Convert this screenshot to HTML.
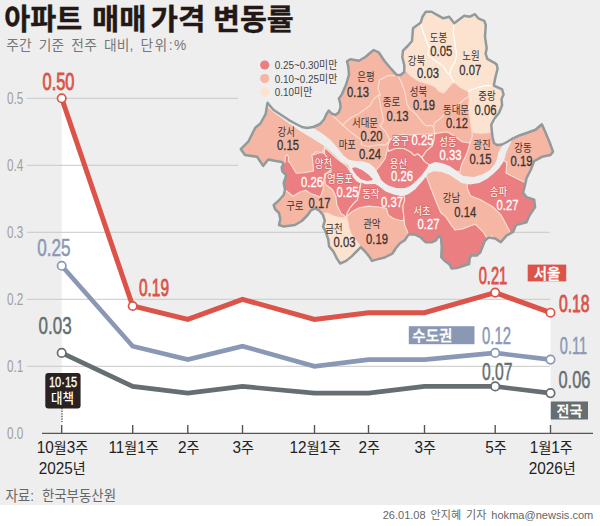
<!DOCTYPE html>
<html lang="ko"><head><meta charset="utf-8"><title>아파트 매매 가격 변동률</title>
<style>html,body{margin:0;padding:0;background:#fff;}svg{display:block;}text{font-family:'Liberation Sans','Noto Sans CJK KR','NanumGothic',sans-serif;}</style></head><body>
<svg width="600" height="526" viewBox="0 0 600 526">
<rect x="0" y="0" width="600" height="505.5" fill="#eeeeee"/>
<rect x="0" y="505" width="600" height="21" fill="#ffffff"/>
<polygon points="61.7,98.3 132.7,306.0 187.8,319.4 242.5,299.3 314.5,319.4 368.5,312.7 424.5,312.7 495.2,292.6 550.5,312.7 550.5,433.3 61.7,433.3" fill="#ffffff"/>
<g stroke="#c9c9c9" stroke-width="1" fill="none">
<line x1="27" y1="98.3" x2="238.2" y2="98.3"/>
<line x1="27" y1="165.3" x2="238.2" y2="165.3"/>
<line x1="27" y1="232.3" x2="549.8" y2="232.3"/>
<line x1="27" y1="299.3" x2="550" y2="299.3"/>
<line x1="27" y1="366.3" x2="550" y2="366.3"/>
</g>
<g stroke="#595555" stroke-width="1.4" fill="none">
<line x1="42" y1="433.4" x2="593" y2="433.4"/>
<line x1="61.7" y1="425" x2="61.7" y2="433.3"/>
<line x1="132.7" y1="425" x2="132.7" y2="433.3"/>
<line x1="187.8" y1="425" x2="187.8" y2="433.3"/>
<line x1="242.5" y1="425" x2="242.5" y2="433.3"/>
<line x1="314.5" y1="425" x2="314.5" y2="433.3"/>
<line x1="368.5" y1="425" x2="368.5" y2="433.3"/>
<line x1="424.5" y1="425" x2="424.5" y2="433.3"/>
<line x1="495.2" y1="425" x2="495.2" y2="433.3"/>
<line x1="550.5" y1="425" x2="550.5" y2="433.3"/>
</g>
<g id="seoulmap">
<defs><clipPath id="mapclip"><polygon points="267.5,102.8 273.3,109.7 281.3,115 289.3,120.3 297,124.5 302,127 307,128 313.3,127 320,124 324,119.5 326.5,114 328.8,110.5 331.5,113.5 335.5,115 338.8,112.3 340.6,107 340,102.5 338.9,98.5 341.7,94.7 346.3,84 349,74.7 348.3,66.7 347,61.3 350.3,59.3 359,60.7 365.7,56.7 370.3,52.7 373.7,50 379,52.7 384.3,60.7 391,68.7 396.3,74.7 400.3,75.3 404.3,72 404.3,65.3 402.3,57.3 403,50.7 407.7,46 412,41 413,28.3 420.8,22.5 422.5,16.7 425.8,11.7 431.7,11.7 435.8,14.2 443.3,18.3 449.2,16.7 451.7,20 454.2,23.3 457.5,20.8 464.2,15.8 470,16.7 475,14.2 478.3,18.3 484.2,20.8 485.8,25 485,36.7 486.7,48.3 485.6,53.7 487.3,58.8 494.5,62.8 496.8,64.8 497.6,68.7 495.3,77.8 493.8,85.6 498,87.5 502.1,89.4 503.6,94.5 501.5,99.1 502.1,105.2 499.1,112.8 494.5,118.5 491.3,124.5 491.7,130 492.5,137 494,143 497,145 502,144.5 507,142 513,138.3 520,135.2 528,132.5 535.5,129.8 541.9,124.3 545.3,132 549.6,142.3 553,151.7 550.5,155.1 541.9,156.8 534.2,161.1 530.8,169.7 526.5,178.2 524.8,185.9 523.1,192.8 526.5,197.1 534.2,199.6 535.1,207.1 529.4,215.6 526.5,222.3 516,225.1 513.2,231.8 506.5,235.6 500.8,242.2 495.1,238.4 488.5,237.5 484.8,240.8 482.5,246.7 480.2,252.5 476.7,255.5 471.4,255.2 469.7,258.3 469.1,264 463.8,265.7 456.8,268 451.6,268.5 449.3,264.2 445.2,261.3 441.3,257.2 441.7,246.7 441.1,238.5 438.9,235.6 436,240.3 432.2,242.2 425.6,242.2 420.8,237.5 415.1,234.6 408.5,234.6 404.7,240.3 400,243.2 396,248 392.3,253.7 384.7,257.5 377.1,259.4 371.9,260.9 369.3,256.6 365.1,251.5 360.8,247.2 356.5,251.5 351.4,256.6 346.2,260.9 340.2,263.5 336.8,258.4 333.4,251.5 329.1,246.4 328.3,239.5 325.7,231.8 323.1,226.7 324.8,220.7 323,215 319,210.3 315,208.3 311,210.3 307.7,215 301.7,221 295,225 283.7,226.5 279,225 280.3,219 279,213 275,209 273.7,205 278.3,201 283.7,195 285,189.7 283.7,183 285.7,177 286.3,175.3 282.3,171.3 281.7,167.3 283.7,163.5 281.7,162 274.5,160.8 268.3,159.5 263.1,165.9 257.1,156.8 245,155 240.8,149.2 248.5,141.4 251,136.3 255.3,127.7 260.4,123.5 265.6,114.1"/></clipPath></defs>
<g clip-path="url(#mapclip)">
<polygon points="267.5,102.8 273.3,109.7 281.3,115 289.3,120.3 297,124.5 302,127 307,128 313.3,127 320,124 324,119.5 326.5,114 328.8,110.5 331.5,113.5 335.5,115 338.8,112.3 340.6,107 340,102.5 338.9,98.5 341.7,94.7 346.3,84 349,74.7 348.3,66.7 347,61.3 350.3,59.3 359,60.7 365.7,56.7 370.3,52.7 373.7,50 379,52.7 384.3,60.7 391,68.7 396.3,74.7 400.3,75.3 404.3,72 404.3,65.3 402.3,57.3 403,50.7 407.7,46 412,41 413,28.3 420.8,22.5 422.5,16.7 425.8,11.7 431.7,11.7 435.8,14.2 443.3,18.3 449.2,16.7 451.7,20 454.2,23.3 457.5,20.8 464.2,15.8 470,16.7 475,14.2 478.3,18.3 484.2,20.8 485.8,25 485,36.7 486.7,48.3 485.6,53.7 487.3,58.8 494.5,62.8 496.8,64.8 497.6,68.7 495.3,77.8 493.8,85.6 498,87.5 502.1,89.4 503.6,94.5 501.5,99.1 502.1,105.2 499.1,112.8 494.5,118.5 491.3,124.5 491.7,130 492.5,137 494,143 497,145 502,144.5 507,142 513,138.3 520,135.2 528,132.5 535.5,129.8 541.9,124.3 545.3,132 549.6,142.3 553,151.7 550.5,155.1 541.9,156.8 534.2,161.1 530.8,169.7 526.5,178.2 524.8,185.9 523.1,192.8 526.5,197.1 534.2,199.6 535.1,207.1 529.4,215.6 526.5,222.3 516,225.1 513.2,231.8 506.5,235.6 500.8,242.2 495.1,238.4 488.5,237.5 484.8,240.8 482.5,246.7 480.2,252.5 476.7,255.5 471.4,255.2 469.7,258.3 469.1,264 463.8,265.7 456.8,268 451.6,268.5 449.3,264.2 445.2,261.3 441.3,257.2 441.7,246.7 441.1,238.5 438.9,235.6 436,240.3 432.2,242.2 425.6,242.2 420.8,237.5 415.1,234.6 408.5,234.6 404.7,240.3 400,243.2 396,248 392.3,253.7 384.7,257.5 377.1,259.4 371.9,260.9 369.3,256.6 365.1,251.5 360.8,247.2 356.5,251.5 351.4,256.6 346.2,260.9 340.2,263.5 336.8,258.4 333.4,251.5 329.1,246.4 328.3,239.5 325.7,231.8 323.1,226.7 324.8,220.7 323,215 319,210.3 315,208.3 311,210.3 307.7,215 301.7,221 295,225 283.7,226.5 279,225 280.3,219 279,213 275,209 273.7,205 278.3,201 283.7,195 285,189.7 283.7,183 285.7,177 286.3,175.3 282.3,171.3 281.7,167.3 283.7,163.5 281.7,162 274.5,160.8 268.3,159.5 263.1,165.9 257.1,156.8 245,155 240.8,149.2 248.5,141.4 251,136.3 255.3,127.7 260.4,123.5 265.6,114.1" fill="#f5b6a4"/>
<polygon points="403.6,71.3 396,60 400,10 440,5 495,8 508,80 510,105 500,120 496,131 489,132.7 481,133.3 474,132.7 471.9,130.5 470.2,118.8 468.5,108.5 469.3,100 468.5,91.4 459.9,87 453.9,82 449.7,86.2 443.7,93 439.4,91.4 434.2,86.2 427.4,83.7 418.8,81.1 412,76.8 406.8,71.7" fill="#fbe3cf" stroke="#fbddd2" stroke-width="1.15" stroke-linejoin="round"/>
<polygon points="322.3,213.8 327.4,213 334.2,216.4 341.9,218.1 346.5,217.5 347.9,221.9 348.8,228 351.4,234.4 356.5,241.2 360.8,247.2 358,262 340,270 322,250 318,225 318,214" fill="#fbe3cf" stroke="#fbddd2" stroke-width="1.15" stroke-linejoin="round"/>
<polygon points="287,154.5 288.5,157 288.3,161.3 289.7,162.5 292.3,166.7 296.3,173.3 304.3,172.7 313.5,171 312.8,162 312,155.1 316.2,151.7 324.8,153.4 329,158.6 331.6,167.1 329,171.4 324.8,174 323.5,182.5 323,189.7 320.3,197 315,195 311,193.7 305.7,190.3 300.3,191.7 293,196.3 285,189.7 276,188 276,163 283.7,164 285,162.7 285.4,156.7" fill="#ea7e81" stroke="#fbddd2" stroke-width="1.15" stroke-linejoin="round"/>
<polygon points="324.5,146.5 326.7,149.3 334.7,156.7 341.3,162 346.7,166 350,171.3 353.3,176.7 357.3,181.3 361.3,183.3 359.9,186.2 359,193.1 357.4,199.9 353.1,204.2 349.7,208.5 347.1,213.6 346.2,217 341.1,213.6 336.8,205.1 335.9,196.5 332.5,189.7 325.7,184.5 324.8,180.2 325.7,174.2 330.8,172.5 331.7,165.7 327.4,158 324.5,153.5" fill="#ea7e81" stroke="#fbddd2" stroke-width="1.15" stroke-linejoin="round"/>
<polygon points="360.5,186 361.3,181 368,180 373.3,179 377.3,180 384,185 392,189 400,192 403.7,191.8 404.7,200.4 402.8,206.1 403.7,215.6 403.7,220.4 400,220.5 393.3,218.5 388.3,215 386.5,208.4 378.8,207 368.5,206.1 359.1,207.8 351.4,212.1 346.2,217 347.1,213.6 349.7,208.5 353.1,204.2 357.4,199.9 359,193.1" fill="#ea7e81" stroke="#fbddd2" stroke-width="1.15" stroke-linejoin="round"/>
<polygon points="403.7,191 405.7,190 414.2,187 421.1,181 426.2,175 427.5,179.5 430.3,187.1 434.1,196.6 437.9,206.1 440.8,212.8 445.6,216.6 451.3,225.1 455,229.9 462.7,228.9 470,226 475.2,224.2 483.7,232.7 486.6,237.5 492,236 488,250 482,262 470,272 455,274 438,270 430,248 420,242 408.5,236 407.5,231.8 404.7,225.1 403.7,215.6 402.8,206.1 404.7,200.4" fill="#ea7e81" stroke="#fbddd2" stroke-width="1.15" stroke-linejoin="round"/>
<polygon points="466.6,180 475.7,180 483.7,177 492.3,172 499.1,165 503.4,160 506.8,162.8 506,173.1 512.8,176.5 521.4,180.8 524.8,182.5 530,184 535,195 540,207 532,222 518,230 513.2,233 510.3,233.7 509.4,230.8 505.6,223.2 500.8,214.7 493.2,207.1 481.8,200.4 470.4,195.7 467.6,189" fill="#ea7e81" stroke="#fbddd2" stroke-width="1.15" stroke-linejoin="round"/>
<polygon points="388.6,151.1 395.4,148.5 404,148.5 410.8,152 414.2,155.4 417.7,153.7 422,158 424.5,161.4 428.8,164.4 428,171 421,182 412.5,188 404,192 395.4,192 386.8,187 380,179 375.5,171 380.2,165.3 385.3,158.5 387.1,150" fill="#ea7e81" stroke="#fbddd2" stroke-width="1.15" stroke-linejoin="round"/>
<polygon points="389.4,140.8 395.4,135.9 402.5,134.3 410,135 417.7,134.3 428,134 434.8,133.6 434,140 432.2,146 426.2,151.1 422,157.5 417.7,153.7 414.2,155.4 410.8,152 404,148.5 395.4,148.5 388.6,151.1 387.7,146.8" fill="#ea7e81" stroke="#fbddd2" stroke-width="1.15" stroke-linejoin="round"/>
<polygon points="434.8,133.6 445,132 449,132.8 455.5,137 462.5,142 469.9,143 468.2,149.4 465.6,156.2 462.2,163.1 460.5,168.2 460,172 451.9,170 443.4,167 434.8,166 428.8,164.4 424.5,161.4 422,157.5 426.2,151.1 432.2,146 434,140" fill="#ea7e81" stroke="#fbddd2" stroke-width="1.15" stroke-linejoin="round"/>
<g fill="none" stroke="#fbddd2" stroke-width="1.15" stroke-linejoin="round" stroke-linecap="round">
<polyline points="398.4,75.6 388.2,75.6 379.6,79.9 377.9,88.4 380.5,95.3 378.5,95.1 374.7,98.3 372,101.5 370.5,105 365.3,109 358.7,113.7 351.3,117.3 346,121.7 342.7,125"/>
<polyline points="328.8,111 334.7,117.7 342.7,125 349.4,131.1 356.2,136.2 361.4,139.7 361.4,144.8 368.2,146.5 378.5,144.8 385.3,144.8 388.8,142.2"/>
<polyline points="378.5,95.1 380.2,103.7 381.9,112.3 383.6,120.8 380.2,126 385.3,131.1 389.6,139.7 389.4,142"/>
<polyline points="398.4,76.5 401.9,83.3 405.3,93.6 406.8,103.4 409.4,108.5 417.1,115.3 422.3,122.2 425.7,125.6 431.4,125.4 433.5,127 434.8,133.6"/>
<polyline points="468.5,96.5 463.4,100 458.2,105 451.4,108.5 444.5,113.6 440.2,118.8 434.8,122.5 433.3,127"/>
<polyline points="469.9,143 472.3,136.5 472,130.5"/>
<polyline points="313.6,154.8 322,152 325,149"/>
<polyline points="324.8,215.9 328.2,213.4"/>
</g>
<g fill="none" stroke="#ffffff" stroke-width="1.2" stroke-linejoin="round" stroke-linecap="round">
<polyline points="420.8,23.3 422.5,30 426.7,41.7 429.2,47.5 427.8,55 436,61.4 442.8,65.7 447.1,72.5 449.7,74.2 453.9,82"/>
<polyline points="454.2,23.3 453.3,33.3 455,43.3 456.7,55 454.8,62.3 451.4,67.5 449.7,74.2"/>
<polyline points="468.5,91.4 472,89.5 477.8,87.7 485.4,85.6 493.8,85.6"/>
</g>
<polygon points="267.5,102.8 273.3,109.7 281.3,115 289.3,120.3 297,124.5 302,127 307,128 313,127.5 317,130.3 322.7,133.7 330.7,140.3 337.7,148 343,155 348.3,159.5 355,161 361.7,161 369.7,163.5 374.6,167.8 378.5,174.3 381.5,180.8 388.3,185.6 396.3,188 404.3,188.2 411,185.5 416.3,180.8 421.7,175.2 426.5,168.8 429.7,164.3 435,162 441.7,163 449.7,166 455.3,170 463.3,176 474,177 483.3,174 490,170 495.3,163.3 497.3,157.5 498.3,152.5 500.5,148.5 503,145 505,141 512,140.5 510,144.5 507.5,149.5 505.7,154 505,157.5 503.3,162 499.3,168 494,173.3 487.3,178.7 479.3,183 470,184.5 461.5,183 455,178.5 449.7,175 441.7,172 433.7,171.3 428.3,173.5 425.7,177.2 420.3,183.5 415,189.5 408.3,194.2 401.7,196.2 393.7,194.6 385.7,191.5 379,186.3 375,184 365.7,184.2 359,181.8 354.3,178.2 351,172.7 348.3,165.3 341.3,161.5 334.7,155 324,145.7 313.3,139 300,131 286.7,121.7 273.3,112.3 268,107.5" fill="#eeeeee"/>
<polygon points="352,168 355.5,167.2 361.7,169.7 368,174.3 372.7,178.7 372.2,180.3 367,181 361,179.3 356.5,175.3 353.3,171" fill="#ea7e81"/>
</g>
<polygon points="267.5,102.8 273.3,109.7 281.3,115 289.3,120.3 297,124.5 302,127 307,128 313.3,127 320,124 324,119.5 326.5,114 328.8,110.5 331.5,113.5 335.5,115 338.8,112.3 340.6,107 340,102.5 338.9,98.5 341.7,94.7 346.3,84 349,74.7 348.3,66.7 347,61.3 350.3,59.3 359,60.7 365.7,56.7 370.3,52.7 373.7,50 379,52.7 384.3,60.7 391,68.7 396.3,74.7 400.3,75.3 404.3,72 404.3,65.3 402.3,57.3 403,50.7 407.7,46 412,41 413,28.3 420.8,22.5 422.5,16.7 425.8,11.7 431.7,11.7 435.8,14.2 443.3,18.3 449.2,16.7 451.7,20 454.2,23.3 457.5,20.8 464.2,15.8 470,16.7 475,14.2 478.3,18.3 484.2,20.8 485.8,25 485,36.7 486.7,48.3 485.6,53.7 487.3,58.8 494.5,62.8 496.8,64.8 497.6,68.7 495.3,77.8 493.8,85.6 498,87.5 502.1,89.4 503.6,94.5 501.5,99.1 502.1,105.2 499.1,112.8 494.5,118.5 491.3,124.5 491.7,130 492.5,137 494,143 497,145 502,144.5 507,142 513,138.3 520,135.2 528,132.5 535.5,129.8 541.9,124.3 545.3,132 549.6,142.3 553,151.7 550.5,155.1 541.9,156.8 534.2,161.1 530.8,169.7 526.5,178.2 524.8,185.9 523.1,192.8 526.5,197.1 534.2,199.6 535.1,207.1 529.4,215.6 526.5,222.3 516,225.1 513.2,231.8 506.5,235.6 500.8,242.2 495.1,238.4 488.5,237.5 484.8,240.8 482.5,246.7 480.2,252.5 476.7,255.5 471.4,255.2 469.7,258.3 469.1,264 463.8,265.7 456.8,268 451.6,268.5 449.3,264.2 445.2,261.3 441.3,257.2 441.7,246.7 441.1,238.5 438.9,235.6 436,240.3 432.2,242.2 425.6,242.2 420.8,237.5 415.1,234.6 408.5,234.6 404.7,240.3 400,243.2 396,248 392.3,253.7 384.7,257.5 377.1,259.4 371.9,260.9 369.3,256.6 365.1,251.5 360.8,247.2 356.5,251.5 351.4,256.6 346.2,260.9 340.2,263.5 336.8,258.4 333.4,251.5 329.1,246.4 328.3,239.5 325.7,231.8 323.1,226.7 324.8,220.7 323,215 319,210.3 315,208.3 311,210.3 307.7,215 301.7,221 295,225 283.7,226.5 279,225 280.3,219 279,213 275,209 273.7,205 278.3,201 283.7,195 285,189.7 283.7,183 285.7,177 286.3,175.3 282.3,171.3 281.7,167.3 283.7,163.5 281.7,162 274.5,160.8 268.3,159.5 263.1,165.9 257.1,156.8 245,155 240.8,149.2 248.5,141.4 251,136.3 255.3,127.7 260.4,123.5 265.6,114.1" fill="none" stroke="#939a9b" stroke-width="2.5" stroke-linejoin="round"/>
<text transform="translate(438.5,41.6) scale(0.8,1)" font-size="11.8" fill="#3b3431" text-anchor="middle">도봉</text>
<text transform="translate(441.3,56.1) scale(0.8,1)" font-size="14.1" fill="#3b3431" stroke="#3b3431" stroke-width="0.3" text-anchor="middle">0.05</text>
<text transform="translate(471,60.1) scale(0.8,1)" font-size="11.8" fill="#3b3431" text-anchor="middle">노원</text>
<text transform="translate(470.3,75.4) scale(0.8,1)" font-size="14.1" fill="#3b3431" stroke="#3b3431" stroke-width="0.3" text-anchor="middle">0.07</text>
<text transform="translate(416.5,65.3) scale(0.8,1)" font-size="11.8" fill="#3b3431" text-anchor="middle">강북</text>
<text transform="translate(428,78.4) scale(0.8,1)" font-size="14.1" fill="#3b3431" stroke="#3b3431" stroke-width="0.3" text-anchor="middle">0.03</text>
<text transform="translate(366,81.3) scale(0.8,1)" font-size="11.8" fill="#3b3431" text-anchor="middle">은평</text>
<text transform="translate(358,96.9) scale(0.8,1)" font-size="14.1" fill="#3b3431" stroke="#3b3431" stroke-width="0.3" text-anchor="middle">0.13</text>
<text transform="translate(418.5,96.3) scale(0.8,1)" font-size="11.8" fill="#3b3431" text-anchor="middle">성북</text>
<text transform="translate(424,110.4) scale(0.8,1)" font-size="14.1" fill="#3b3431" stroke="#3b3431" stroke-width="0.3" text-anchor="middle">0.19</text>
<text transform="translate(487,99.8) scale(0.8,1)" font-size="11.8" fill="#3b3431" text-anchor="middle">중랑</text>
<text transform="translate(485.5,114.9) scale(0.8,1)" font-size="14.1" fill="#3b3431" stroke="#3b3431" stroke-width="0.3" text-anchor="middle">0.06</text>
<text transform="translate(391.5,105.8) scale(0.8,1)" font-size="11.8" fill="#3b3431" text-anchor="middle">종로</text>
<text transform="translate(397.5,120.9) scale(0.8,1)" font-size="14.1" fill="#3b3431" stroke="#3b3431" stroke-width="0.3" text-anchor="middle">0.13</text>
<text transform="translate(456,113.8) scale(0.8,1)" font-size="11.8" fill="#3b3431" text-anchor="middle">동대문</text>
<text transform="translate(457,127.9) scale(0.8,1)" font-size="14.1" fill="#3b3431" stroke="#3b3431" stroke-width="0.3" text-anchor="middle">0.12</text>
<text transform="translate(365,126.8) scale(0.8,1)" font-size="11.8" fill="#3b3431" text-anchor="middle">서대문</text>
<text transform="translate(371.5,140.9) scale(0.8,1)" font-size="14.1" fill="#3b3431" stroke="#3b3431" stroke-width="0.3" text-anchor="middle">0.20</text>
<text transform="translate(347.3,148.8) scale(0.8,1)" font-size="11.8" fill="#3b3431" text-anchor="middle">마포</text>
<text transform="translate(370,158.7) scale(0.8,1)" font-size="14.1" fill="#3b3431" stroke="#3b3431" stroke-width="0.3" text-anchor="middle">0.24</text>
<text transform="translate(400.5,144.8) scale(0.8,1)" font-size="11.8" fill="#ffffff" stroke="#d5696c" stroke-width="1.6" paint-order="stroke" stroke-linejoin="round" text-anchor="middle">중구</text>
<text transform="translate(422.5,145.4) scale(0.8,1)" font-size="14.1" fill="#ffffff" stroke="#ffffff" stroke-width="0.3" text-anchor="middle">0.25</text>
<text transform="translate(448,145.6) scale(0.8,1)" font-size="11.8" fill="#ffffff" stroke="#d5696c" stroke-width="1.6" paint-order="stroke" stroke-linejoin="round" text-anchor="middle">성동</text>
<text transform="translate(450.5,159.6) scale(0.8,1)" font-size="14.1" fill="#ffffff" stroke="#ffffff" stroke-width="0.3" text-anchor="middle">0.33</text>
<text transform="translate(482,148.8) scale(0.8,1)" font-size="11.8" fill="#3b3431" text-anchor="middle">광진</text>
<text transform="translate(480.5,164.4) scale(0.8,1)" font-size="14.1" fill="#3b3431" stroke="#3b3431" stroke-width="0.3" text-anchor="middle">0.15</text>
<text transform="translate(523,151.8) scale(0.8,1)" font-size="11.8" fill="#3b3431" text-anchor="middle">강동</text>
<text transform="translate(521.5,166.4) scale(0.8,1)" font-size="14.1" fill="#3b3431" stroke="#3b3431" stroke-width="0.3" text-anchor="middle">0.19</text>
<text transform="translate(398.5,167.6) scale(0.8,1)" font-size="11.8" fill="#ffffff" stroke="#d5696c" stroke-width="1.6" paint-order="stroke" stroke-linejoin="round" text-anchor="middle">용산</text>
<text transform="translate(402,181.4) scale(0.8,1)" font-size="14.1" fill="#ffffff" stroke="#ffffff" stroke-width="0.3" text-anchor="middle">0.26</text>
<text transform="translate(323.5,168.3) scale(0.8,1)" font-size="11.8" fill="#ffffff" stroke="#d5696c" stroke-width="1.6" paint-order="stroke" stroke-linejoin="round" text-anchor="middle">양천</text>
<text transform="translate(312,187.4) scale(0.8,1)" font-size="14.1" fill="#ffffff" stroke="#ffffff" stroke-width="0.3" text-anchor="middle">0.26</text>
<text transform="translate(340,183.3) scale(0.8,1)" font-size="11.8" fill="#ffffff" stroke="#d5696c" stroke-width="1.6" paint-order="stroke" stroke-linejoin="round" text-anchor="middle">영등포</text>
<text transform="translate(347.5,197.4) scale(0.8,1)" font-size="14.1" fill="#ffffff" stroke="#ffffff" stroke-width="0.3" text-anchor="middle">0.25</text>
<text transform="translate(370.8,198.3) scale(0.8,1)" font-size="11.8" fill="#ffffff" stroke="#d5696c" stroke-width="1.6" paint-order="stroke" stroke-linejoin="round" text-anchor="middle">동작</text>
<text transform="translate(392,206.9) scale(0.8,1)" font-size="14.1" fill="#ffffff" stroke="#ffffff" stroke-width="0.3" text-anchor="middle">0.37</text>
<text transform="translate(498.5,195.8) scale(0.8,1)" font-size="11.8" fill="#ffffff" stroke="#d5696c" stroke-width="1.6" paint-order="stroke" stroke-linejoin="round" text-anchor="middle">송파</text>
<text transform="translate(507.5,209.9) scale(0.8,1)" font-size="14.1" fill="#ffffff" stroke="#ffffff" stroke-width="0.3" text-anchor="middle">0.27</text>
<text transform="translate(451.5,201.6) scale(0.8,1)" font-size="11.8" fill="#3b3431" text-anchor="middle">강남</text>
<text transform="translate(465.3,217.4) scale(0.8,1)" font-size="14.1" fill="#3b3431" stroke="#3b3431" stroke-width="0.3" text-anchor="middle">0.14</text>
<text transform="translate(422,214.6) scale(0.8,1)" font-size="11.8" fill="#ffffff" stroke="#d5696c" stroke-width="1.6" paint-order="stroke" stroke-linejoin="round" text-anchor="middle">서초</text>
<text transform="translate(428.5,229.4) scale(0.8,1)" font-size="14.1" fill="#ffffff" stroke="#ffffff" stroke-width="0.3" text-anchor="middle">0.27</text>
<text transform="translate(294.8,210.3) scale(0.8,1)" font-size="11.8" fill="#3b3431" text-anchor="middle">구로</text>
<text transform="translate(319.5,208.1) scale(0.8,1)" font-size="14.1" fill="#3b3431" stroke="#3b3431" stroke-width="0.3" text-anchor="middle">0.17</text>
<text transform="translate(334,232.7) scale(0.8,1)" font-size="11.8" fill="#3b3431" text-anchor="middle">금천</text>
<text transform="translate(344.5,246.9) scale(0.8,1)" font-size="14.1" fill="#3b3431" stroke="#3b3431" stroke-width="0.3" text-anchor="middle">0.03</text>
<text transform="translate(371.8,227.6) scale(0.8,1)" font-size="11.8" fill="#3b3431" text-anchor="middle">관악</text>
<text transform="translate(377,244.3) scale(0.8,1)" font-size="14.1" fill="#3b3431" stroke="#3b3431" stroke-width="0.3" text-anchor="middle">0.19</text>
<text transform="translate(286.2,136.1) scale(0.8,1)" font-size="11.8" fill="#3b3431" text-anchor="middle">강서</text>
<text transform="translate(288,150.4) scale(0.8,1)" font-size="14.1" fill="#3b3431" stroke="#3b3431" stroke-width="0.3" text-anchor="middle">0.15</text>
<circle cx="264.7" cy="65" r="4.6" fill="#ea7e81"/>
<text transform="translate(274.8,69) scale(0.86,1)" font-size="11.5" fill="#444">0.25~0.30미만</text>
<circle cx="264.7" cy="78.5" r="4.6" fill="#f5b6a4"/>
<text transform="translate(274.8,82.5) scale(0.86,1)" font-size="11.5" fill="#444">0.10~0.25미만</text>
<circle cx="264.7" cy="92.2" r="4.6" fill="#fbe3cf"/>
<text transform="translate(274.8,96.2) scale(0.86,1)" font-size="11.5" fill="#444">0.10미만</text>
</g>
<polyline points="61.7,352.9 132.7,386.4 187.8,393.1 242.5,386.4 314.5,393.1 368.5,393.1 424.5,386.4 495.2,386.4 550.5,393.1" fill="none" stroke="#656e71" stroke-width="4.6" stroke-linejoin="miter" stroke-miterlimit="6" stroke-linecap="butt"/>
<polyline points="61.7,265.8 132.7,346.2 187.8,359.6 242.5,346.2 314.5,366.3 368.5,359.6 424.5,359.6 495.2,352.9 550.5,359.6" fill="none" stroke="#8b98b5" stroke-width="4.6" stroke-linejoin="miter" stroke-miterlimit="6" stroke-linecap="butt"/>
<polyline points="61.7,98.3 132.7,306.0 187.8,319.4 242.5,299.3 314.5,319.4 368.5,312.7 424.5,312.7 495.2,292.6 550.5,312.7" fill="none" stroke="#db5349" stroke-width="5" stroke-linejoin="miter" stroke-miterlimit="6" stroke-linecap="butt"/>
<circle cx="61.7" cy="98.3" r="4.2" fill="#fff" stroke="#db5349" stroke-width="1.7"/>
<circle cx="132.7" cy="306.0" r="4.2" fill="#fff" stroke="#db5349" stroke-width="1.7"/>
<circle cx="495.2" cy="292.6" r="4.2" fill="#fff" stroke="#db5349" stroke-width="1.7"/>
<circle cx="550.5" cy="312.7" r="4.2" fill="#fff" stroke="#db5349" stroke-width="1.7"/>
<circle cx="61.7" cy="265.8" r="4.2" fill="#fff" stroke="#8b98b5" stroke-width="1.7"/>
<circle cx="495.2" cy="352.9" r="4.2" fill="#fff" stroke="#8b98b5" stroke-width="1.7"/>
<circle cx="550.5" cy="359.6" r="4.2" fill="#fff" stroke="#8b98b5" stroke-width="1.7"/>
<circle cx="61.7" cy="352.9" r="4.2" fill="#fff" stroke="#656e71" stroke-width="1.7"/>
<circle cx="495.2" cy="386.4" r="4.2" fill="#fff" stroke="#656e71" stroke-width="1.7"/>
<circle cx="550.5" cy="393.1" r="4.2" fill="#fff" stroke="#656e71" stroke-width="1.7"/>
<line x1="62" y1="408" x2="62" y2="422" stroke="#222" stroke-width="1" stroke-dasharray="1.4,1.2"/>
<rect x="45.3" y="372.9" width="35.3" height="35.5" rx="3" fill="#2a2120"/>
<text transform="translate(62.6,403.1) scale(0.94,1)" font-size="13.3" fill="#fff" font-weight="500" text-anchor="middle" >대책</text>
<text transform="translate(42.5,89.8) scale(0.669,1)" font-size="24.58" fill="#db5349" font-weight="400" text-anchor="start" stroke="#db5349" stroke-width="0.9">0.50</text>
<text transform="translate(139.0,296.4) scale(0.635,1)" font-size="24.3" fill="#db5349" font-weight="400" text-anchor="start" stroke="#db5349" stroke-width="0.9">0.19</text>
<text transform="translate(478.7,284) scale(0.6,1)" font-size="24.44" fill="#db5349" font-weight="400" text-anchor="start" stroke="#db5349" stroke-width="0.9">0.21</text>
<text transform="translate(559.0,311.7) scale(0.64,1)" font-size="24.58" fill="#db5349" font-weight="400" text-anchor="start" stroke="#db5349" stroke-width="0.9">0.18</text>
<text transform="translate(37.2,256.4) scale(0.697,1)" font-size="24.58" fill="#8b98b5" font-weight="400" text-anchor="start" stroke="#8b98b5" stroke-width="0.5">0.25</text>
<text transform="translate(482.0,344.4) scale(0.639,1)" font-size="23.32" fill="#8b98b5" font-weight="400" text-anchor="start" stroke="#8b98b5" stroke-width="0.5">0.12</text>
<text transform="translate(559.8,354.3) scale(0.631,1)" font-size="23.04" fill="#8b98b5" font-weight="400" text-anchor="start" stroke="#8b98b5" stroke-width="0.5">0.11</text>
<text transform="translate(38.6,334.3) scale(0.706,1)" font-size="24.16" fill="#656e71" font-weight="400" text-anchor="start" stroke="#656e71" stroke-width="0.5">0.03</text>
<text transform="translate(482.0,380.3) scale(0.653,1)" font-size="24.02" fill="#656e71" font-weight="400" text-anchor="start" stroke="#656e71" stroke-width="0.5">0.07</text>
<text transform="translate(558.5,388.4) scale(0.691,1)" font-size="23.74" fill="#656e71" font-weight="400" text-anchor="start" stroke="#656e71" stroke-width="0.5">0.06</text>
<text transform="translate(48.9,387.4) scale(0.742,1)" font-size="14.94" fill="#ffffff" font-weight="400" text-anchor="start" stroke="#ffffff" stroke-width="0.35">10·15</text>
<text transform="translate(6.9,103.8) scale(0.724,1)" font-size="16.2" fill="#a0a0a0" font-weight="400" text-anchor="start" >0.5</text>
<text transform="translate(6.9,170.8) scale(0.724,1)" font-size="16.2" fill="#a0a0a0" font-weight="400" text-anchor="start" >0.4</text>
<text transform="translate(6.9,237.8) scale(0.724,1)" font-size="16.2" fill="#a0a0a0" font-weight="400" text-anchor="start" >0.3</text>
<text transform="translate(6.9,304.8) scale(0.724,1)" font-size="16.2" fill="#a0a0a0" font-weight="400" text-anchor="start" >0.2</text>
<text transform="translate(6.9,371.8) scale(0.724,1)" font-size="16.2" fill="#a0a0a0" font-weight="400" text-anchor="start" >0.1</text>
<text transform="translate(6.9,438.8) scale(0.724,1)" font-size="16.2" fill="#a0a0a0" font-weight="400" text-anchor="start" >0.0</text>
<rect x="527.7" y="264.6" width="38.5" height="16.8" fill="#db5349"/>
<text transform="translate(547,278.6) scale(0.97,1)" font-size="15" fill="#fff" font-weight="500" text-anchor="middle" stroke="#fff" stroke-width="0.3">서울</text>
<rect x="408.8" y="326.2" width="65.7" height="18" fill="#8b98b5"/>
<text transform="translate(412.3,340.6) scale(0.97,1)" font-size="15" fill="#fff" font-weight="500" text-anchor="start" stroke="#fff" stroke-width="0.3">수도권</text>
<rect x="550.8" y="401.5" width="37.2" height="18" fill="#656e71"/>
<text transform="translate(569.4,415.6) scale(1.0,1)" font-size="14" fill="#fff" font-weight="500" text-anchor="middle" stroke="#fff" stroke-width="0.3">전국</text>
<text transform="translate(62.5,453.2) scale(0.97,1)" font-size="15.8" fill="#222" font-weight="400" text-anchor="middle" >10<tspan font-size="14.5">월</tspan>3<tspan font-size="14.5">주</tspan></text>
<text transform="translate(133.5,453.2) scale(0.97,1)" font-size="15.8" fill="#222" font-weight="400" text-anchor="middle" >11<tspan font-size="14.5">월</tspan>1<tspan font-size="14.5">주</tspan></text>
<text transform="translate(188.60000000000002,453.2) scale(0.97,1)" font-size="15.8" fill="#222" font-weight="400" text-anchor="middle" >2<tspan font-size="14.5">주</tspan></text>
<text transform="translate(243.3,453.2) scale(0.97,1)" font-size="15.8" fill="#222" font-weight="400" text-anchor="middle" >3<tspan font-size="14.5">주</tspan></text>
<text transform="translate(315.3,453.2) scale(0.97,1)" font-size="15.8" fill="#222" font-weight="400" text-anchor="middle" >12<tspan font-size="14.5">월</tspan>1<tspan font-size="14.5">주</tspan></text>
<text transform="translate(369.3,453.2) scale(0.97,1)" font-size="15.8" fill="#222" font-weight="400" text-anchor="middle" >2<tspan font-size="14.5">주</tspan></text>
<text transform="translate(425.3,453.2) scale(0.97,1)" font-size="15.8" fill="#222" font-weight="400" text-anchor="middle" >3<tspan font-size="14.5">주</tspan></text>
<text transform="translate(496.0,453.2) scale(0.97,1)" font-size="15.8" fill="#222" font-weight="400" text-anchor="middle" >5<tspan font-size="14.5">주</tspan></text>
<text transform="translate(551.3,453.2) scale(0.97,1)" font-size="15.8" fill="#222" font-weight="400" text-anchor="middle" >1<tspan font-size="14.5">월</tspan>1<tspan font-size="14.5">주</tspan></text>
<text transform="translate(62.3,473.8) scale(0.97,1)" font-size="15.8" fill="#222" font-weight="400" text-anchor="middle" >2025<tspan font-size="14.5">년</tspan></text>
<text transform="translate(552.3,473.8) scale(0.97,1)" font-size="15.8" fill="#222" font-weight="400" text-anchor="middle" >2026<tspan font-size="14.5">년</tspan></text>
<text transform="translate(4.3,29.9) scale(0.975,1)" font-size="29" fill="#231815" font-weight="700" text-anchor="start" stroke="#231815" stroke-width="0.4">아파트</text>
<text transform="translate(92.0,29.9) scale(1.02,1)" font-size="29" fill="#231815" font-weight="700" text-anchor="start" stroke="#231815" stroke-width="0.4">매매</text>
<text transform="translate(150.6,29.9) scale(1.03,1)" font-size="29" fill="#231815" font-weight="700" text-anchor="start" stroke="#231815" stroke-width="0.4">가격</text>
<text transform="translate(213.0,29.9) scale(1.01,1)" font-size="29" fill="#231815" font-weight="700" text-anchor="start" stroke="#231815" stroke-width="0.4">변동률</text>
<text transform="translate(6.2,50.4) scale(0.97,1)" font-size="14.2" fill="#777" font-weight="400" text-anchor="start" word-spacing="3.1" letter-spacing="0.15">주간 기준 전주 대비, <tspan letter-spacing="1.5">단위:%</tspan></text>
<text transform="translate(5.5,501.3) scale(0.94,1)" font-size="14.3" fill="#666" font-weight="400" text-anchor="start" word-spacing="4.5">자료: 한국부동산원</text>
<text transform="translate(593.3,519.3) scale(0.96,1)" font-size="11.5" fill="#666" font-weight="400" text-anchor="end" word-spacing="2">26.01.08 안지혜 기자 hokma@newsis.com</text>
</svg></body></html>
